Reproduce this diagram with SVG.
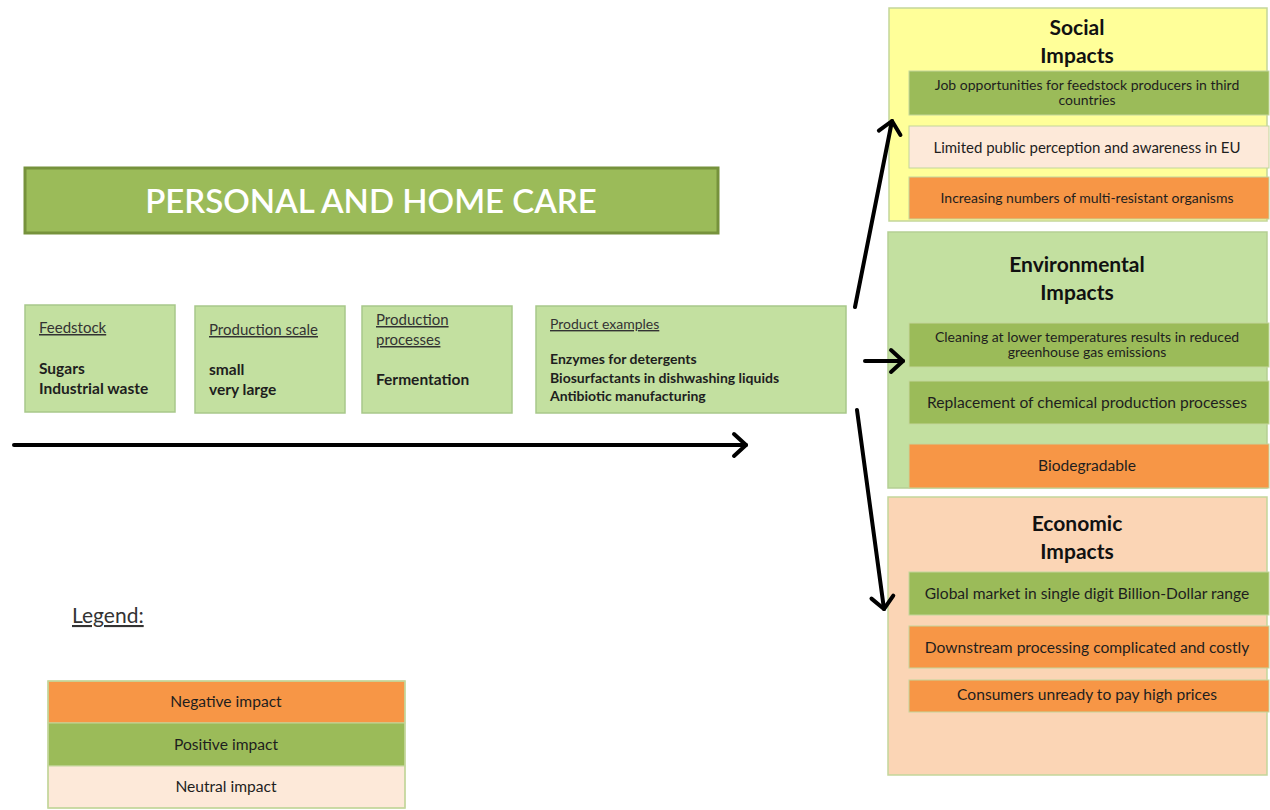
<svg xmlns="http://www.w3.org/2000/svg" width="1270" height="810" viewBox="0 0 1270 810">
<style>
text{font-family:Lato,"Open Sans","Liberation Sans",sans-serif;fill:#1e1e1e}
.lbox{fill:#c3e0a0;stroke:#a8c88a;stroke-width:1.5}
.pos{fill:#9bbb59;stroke:#c3d69b;stroke-width:1}
.neg{fill:#f79646;stroke:#c3d69b;stroke-width:1}
.neu{fill:#fde9d9;stroke:#c3d69b;stroke-width:1}
.hd{font-size:15px;text-decoration:underline;fill:#333}
.bd{font-size:15.5px;font-weight:bold}
.bd13{font-size:14px;font-weight:bold}
.ttl{font-size:21px;font-weight:bold;text-anchor:middle;fill:#111}
.it{font-size:15.6px;text-anchor:middle}
.it13{font-size:14px;text-anchor:middle}
.arr{fill:none;stroke:#000;stroke-width:4;stroke-linecap:round}
</style>
<defs>
<marker id="ah" markerWidth="8" markerHeight="10" refX="6" refY="5" orient="auto" markerUnits="userSpaceOnUse" viewBox="0 0 8 10" overflow="visible">
<path d="M-6,-6 L6,5 L-6,16" fill="none" stroke="#000" stroke-width="4" stroke-linecap="round" stroke-linejoin="round"/>
</marker>
</defs>
<rect width="1270" height="810" fill="#fff"/>

<g id="title">
<rect x="25" y="168" width="693" height="65" fill="#9bbb59" stroke="#76923c" stroke-width="3"/>
<text x="371" y="213" text-anchor="middle" style="font-size:33px;fill:#fff;font-weight:600">PERSONAL AND HOME CARE</text>
</g>

<g id="feedstock">
<rect class="lbox" x="25" y="305" width="150" height="107"/>
<text class="hd" x="39" y="333">Feedstock</text>
<text class="bd" x="39" y="374">Sugars</text>
<text class="bd" x="39" y="394">Industrial waste</text>
</g>
<g id="scale">
<rect class="lbox" x="195" y="306" width="150" height="107"/>
<text class="hd" x="209" y="335">Production scale</text>
<text class="bd" x="209" y="375">small</text>
<text class="bd" x="209" y="395">very large</text>
</g>
<g id="processes">
<rect class="lbox" x="362" y="306" width="150" height="107"/>
<text class="hd" x="376" y="325">Production</text>
<text class="hd" x="376" y="345">processes</text>
<text class="bd" x="376" y="385">Fermentation</text>
</g>
<g id="products">
<rect class="lbox" x="536" y="306" width="310" height="107"/>
<text class="hd" x="550" y="329" style="font-size:14px">Product examples</text>
<text class="bd13" x="550" y="364">Enzymes for detergents</text>
<text class="bd13" x="550" y="383">Biosurfactants in dishwashing liquids</text>
<text class="bd13" x="550" y="401">Antibiotic manufacturing</text>
</g>

<g id="social">
<rect x="889" y="8" width="378" height="213" fill="#ffff99" stroke="#c3d69b" stroke-width="1.5"/>
<text class="ttl" x="1077" y="35">Social</text>
<text class="ttl" x="1077" y="63">Impacts</text>
<rect class="pos" x="909" y="71" width="360" height="44"/>
<text class="it13" x="1087" y="90">Job opportunities for feedstock producers in third</text>
<text class="it13" x="1087" y="105">countries</text>
<rect class="neu" x="909" y="126" width="360" height="42"/>
<text class="it" x="1087" y="153" style="font-size:15px">Limited public perception and awareness in EU</text>
<rect class="neg" x="909" y="177" width="360" height="42"/>
<text class="it13" x="1087" y="203">Increasing numbers of multi-resistant organisms</text>
</g>

<g id="environmental">
<rect x="888" y="232" width="379" height="256" fill="#c3e0a0" stroke="#b5cf94" stroke-width="1.5"/>
<text class="ttl" x="1077" y="272">Environmental</text>
<text class="ttl" x="1077" y="300">Impacts</text>
<rect class="pos" x="909" y="323" width="360" height="44"/>
<text class="it13" x="1087" y="342">Cleaning at lower temperatures results in reduced</text>
<text class="it13" x="1087" y="357">greenhouse gas emissions</text>
<rect class="pos" x="909" y="381" width="360" height="43"/>
<text class="it" x="1087" y="408">Replacement of chemical production processes</text>
<rect class="neg" x="909" y="444" width="360" height="44"/>
<text class="it" x="1087" y="471">Biodegradable</text>
</g>

<g id="economic">
<rect x="888" y="497" width="379" height="278" fill="#fbd5b5" stroke="#c3d69b" stroke-width="1.5"/>
<text class="ttl" x="1077" y="531">Economic</text>
<text class="ttl" x="1077" y="559">Impacts</text>
<rect class="pos" x="909" y="572" width="360" height="43"/>
<text class="it" x="1087" y="599">Global market in single digit Billion-Dollar range</text>
<rect class="neg" x="909" y="626" width="360" height="42"/>
<text class="it" x="1087" y="653">Downstream processing complicated and costly</text>
<rect class="neg" x="909" y="680" width="360" height="32"/>
<text class="it" x="1087" y="700">Consumers unready to pay high prices</text>
</g>

<g id="legend">
<text x="72" y="623" style="font-size:21px;text-decoration:underline;fill:#333">Legend:</text>
<rect class="neg" x="48" y="681" width="357" height="42" stroke="none"/>
<rect class="pos" x="48" y="723" width="357" height="43" stroke="none"/>
<rect class="neu" x="48" y="766" width="357" height="42" stroke="none"/>
<rect x="48" y="681" width="357" height="127" fill="none" stroke="#c3d69b" stroke-width="1.5"/>
<text class="it" x="226" y="707">Negative impact</text>
<text class="it" x="226" y="750">Positive impact</text>
<text class="it" x="226" y="792">Neutral impact</text>
</g>

<g id="connectors">
<line class="arr" x1="14" y1="445" x2="746" y2="445" marker-end="url(#ah)"/>
<line class="arr" x1="855" y1="307" x2="892" y2="121" marker-end="url(#ah)"/>
<line class="arr" x1="865" y1="361" x2="903" y2="361" marker-end="url(#ah)"/>
<line class="arr" x1="857" y1="410" x2="884" y2="609" marker-end="url(#ah)"/>
</g>
</svg>
